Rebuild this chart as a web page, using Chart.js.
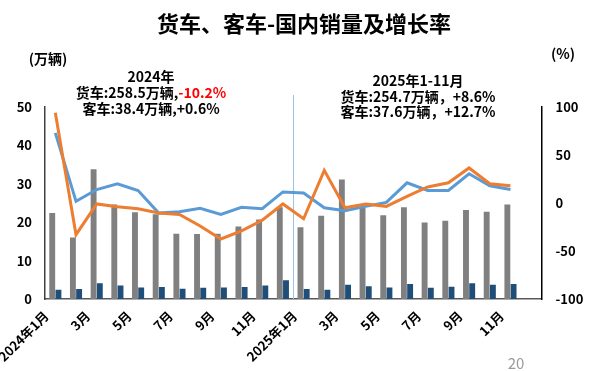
<!DOCTYPE html>
<html>
<head>
<meta charset="utf-8">
<script src="https://cdn.jsdelivr.net/npm/chart.js@4.4.1/dist/chart.umd.min.js"></script>
<style>
html,body{margin:0;padding:0;background:#ffffff;}
#wrap{width:600px;height:371px;position:relative;}
</style>
</head>
<body>
<div id="wrap"><canvas id="c" width="600" height="371"></canvas></div>
<script>
// ---- data ----
const categories = ['2024年1月','2月','3月','4月','5月','6月','7月','8月','9月','10月','11月','12月',
                    '2025年1月','2月','3月','4月','5月','6月','7月','8月','9月','10月','11月','12月'];
const truckSales  = [22.4,16.0,33.8,24.6,22.6,22.1,17.0,16.9,17.0,18.9,20.7,23.9,
                     18.7,21.7,31.1,23.7,21.8,23.9,19.9,20.4,23.2,22.7,24.6];
const busSales    = [2.4,2.6,4.1,3.5,3.0,3.1,2.7,2.9,3.0,3.1,3.5,4.9,
                     2.6,2.4,3.7,3.3,3.0,3.9,2.9,3.2,4.1,3.7,3.9];
const truckGrowth = [94,-33,-1,-4,-6,-10.5,-12,-24,-37.5,-29,-18,-1,
                     -16.4,34,-5,-1,-3.5,7,16.7,21,36.5,20,18];
const busGrowth   = [73,1.7,14,20,13,-10.5,-9,-5.5,-12,-4.5,-6,11.5,
                     10.4,-5,-8,-3.5,0.6,21,13,13,30.5,18,14];
const leftTicks  = [0,10,20,30,40,50];
const rightTicks = [-100,-50,0,50,100];
const titleText = '货车、客车-国内销量及增长率';
const note2024 = ['2024年', '货车:258.5万辆,', '-10.2%', '客车:38.4万辆,+0.6%'];
const note2025 = ['2025年1-11月', '货车:254.7万辆，+8.6%', '客车:37.6万辆，+12.7%'];

const FONT = '"Noto Sans CJK SC", "Noto Sans", sans-serif';

const textPlugin = {
  id: 'textPlugin',
  beforeDatasetsDraw(chart) {
    const ctx = chart.ctx, x = chart.scales.x, area = chart.chartArea;
    const sx = Math.round((x.getPixelForValue(11) + x.getPixelForValue(12)) / 2) + 0.5;
    ctx.save();
    ctx.strokeStyle = '#9dc3e6';
    ctx.lineWidth = 1;
    ctx.beginPath();
    ctx.moveTo(sx, 95);
    ctx.lineTo(sx, area.bottom);
    ctx.stroke();
    ctx.restore();
  },
  afterDraw(chart) {
    const ctx = chart.ctx;
    ctx.save();
    ctx.textBaseline = 'middle';
    ctx.fillStyle = '#000';
    ctx.textAlign = 'center';
    ctx.font = 'bold 22px ' + FONT;
    ctx.fillText(titleText, 304, 24);

    ctx.font = 'bold 14px ' + FONT;
    ctx.fillText('(万辆)', 48, 59);
    ctx.fillText('(%)', 563, 54);

    // 2024 note
    ctx.fillText(note2024[0], 151, 77);
    const w1 = ctx.measureText(note2024[1]).width, w2 = ctx.measureText(note2024[2]).width;
    let sx = 151 - (w1 + w2) / 2;
    ctx.textAlign = 'left';
    ctx.fillText(note2024[1], sx, 93);
    ctx.fillStyle = '#ff0000';
    ctx.fillText(note2024[2], sx + w1, 93);
    ctx.fillStyle = '#000';
    ctx.textAlign = 'center';
    ctx.fillText(note2024[3], 151, 109);

    // 2025 note
    ctx.fillText(note2025[0], 418, 81);
    ctx.fillText(note2025[1], 418, 97);
    ctx.fillText(note2025[2], 418, 112);

    // page number
    ctx.font = '15px ' + FONT;
    ctx.fillStyle = '#9a9a9a';
    ctx.fillText('20', 516, 363);
    ctx.restore();
  }
};

new Chart(document.getElementById('c'), {
  type: 'bar',
  data: {
    labels: categories,
    datasets: [
      { type: 'line', label: '货车增长率', data: truckGrowth, yAxisID: 'y1',
        borderColor: '#ed7d31', borderWidth: 3, pointRadius: 0, tension: 0, order: 1, fill: false },
      { type: 'line', label: '客车增长率', data: busGrowth, yAxisID: 'y1',
        borderColor: '#5b9bd5', borderWidth: 3, pointRadius: 0, tension: 0, order: 1, fill: false },
      { label: '货车', data: truckSales, yAxisID: 'y', backgroundColor: '#808080',
        categoryPercentage: 0.6, barPercentage: 0.95, order: 2 },
      { label: '客车', data: busSales, yAxisID: 'y', backgroundColor: '#1f4e79',
        categoryPercentage: 0.6, barPercentage: 0.95, order: 2 }
    ]
  },
  options: {
    responsive: false,
    animation: false,
    devicePixelRatio: 1,
    layout: { padding: { left: 11, right: 16, top: 107, bottom: 0 } },
    plugins: { legend: { display: false }, tooltip: { enabled: false }, title: { display: false } },
    scales: {
      x: {
        offset: true,
        afterFit: s => { s.height = 72; },
        grid: { display: false, drawTicks: false },
        border: { display: true, color: '#595959', width: 1.5 },
        ticks: {
          autoSkip: false, maxRotation: 45, minRotation: 45, padding: 9, labelOffset: -9,
          color: '#000', font: { family: FONT, size: 13, weight: 'bold' },
          callback: function (v, i) { return i % 2 === 0 ? this.getLabelForValue(v) : ''; }
        }
      },
      y: {
        position: 'left', min: 0, max: 50,
        afterFit: s => { s.width = 28.5; },
        grid: { display: false, drawTicks: false },
        border: { display: true, color: '#404040', width: 1.5 },
        afterBuildTicks: s => { s.ticks = leftTicks.map(v => ({ value: v })); },
        ticks: { padding: 13, color: '#000', font: { family: FONT, size: 13, weight: 'bold' } }
      },
      y1: {
        position: 'right', min: -100, max: 100,
        afterFit: s => { s.width = 42.5; },
        grid: { display: false, drawTicks: false },
        border: { display: true, color: '#000', width: 1.5 },
        afterBuildTicks: s => { s.ticks = rightTicks.map(v => ({ value: v })); },
        ticks: { padding: 14, color: '#000', font: { family: FONT, size: 13, weight: 'bold' } }
      }
    }
  },
  plugins: [textPlugin]
});
</script>
</body>
</html>
